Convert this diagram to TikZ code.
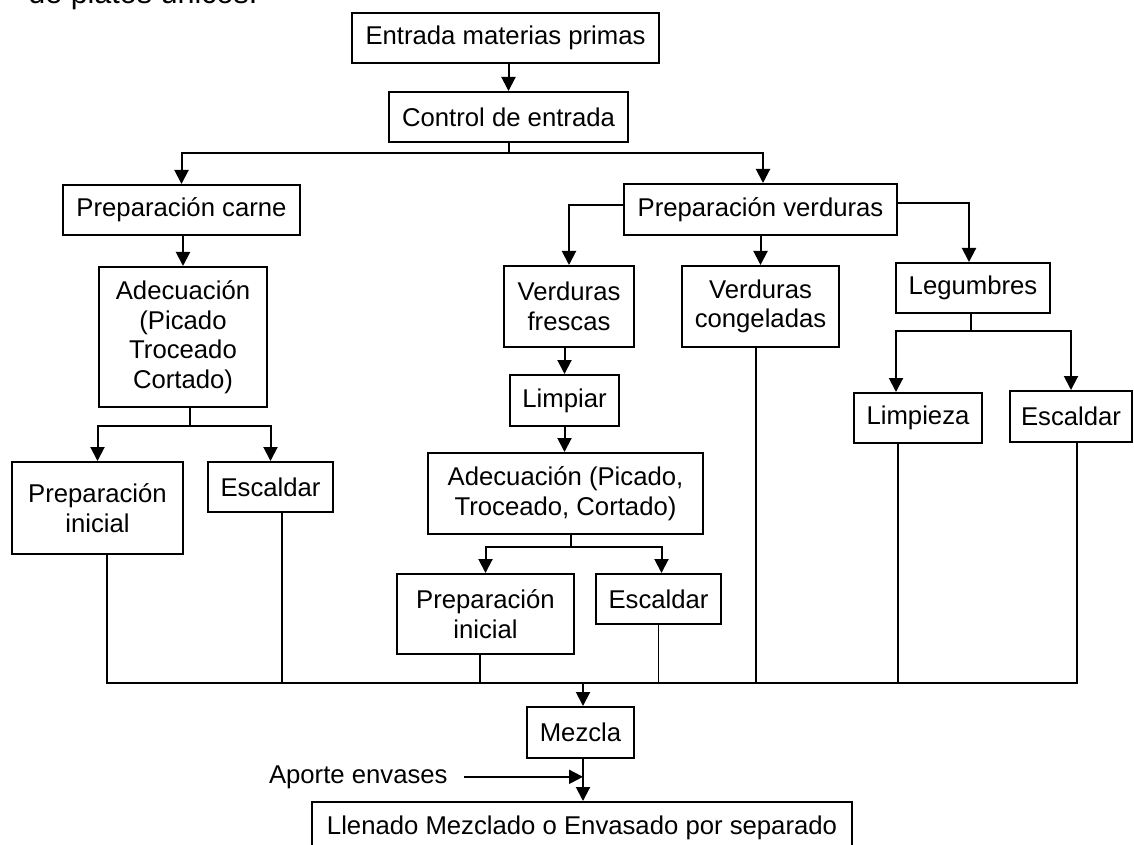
\documentclass[tikz,border=0pt]{standalone}
\usepackage{fontspec}
\setmainfont{Liberation Sans}
\usetikzlibrary{arrows.meta}
\begin{document}
\begin{tikzpicture}[x=0.5pt,y=-0.5pt,
  txt/.style={font=\fontsize{12.85pt}{14.8pt}\selectfont},
  box/.style={txt, draw, line width=1pt, inner sep=0pt, align=center},
  link/.style={line width=1pt},
  arr/.style={link, -{Triangle[length=7pt,width=7pt]}},
  feed/.style={line width=0.8pt}]
\useasboundingbox (0,0) rectangle (1134,845);
\clip (0,0) rectangle (1134,845);
\fill[white] (0,0) rectangle (1134,845);

% heading line of the surrounding text
\node[anchor=base west, inner sep=0pt, font=\fontsize{15.25pt}{18pt}\selectfont] (head) at (28,4) {de platos únicos.};

% process steps
\node[box, minimum width=153.5pt, minimum height=25pt]   (entrada)  at (505.5,38)   {Entrada materias primas};
\node[box, minimum width=119.5pt, minimum height=25pt]   (control)  at (508.5,117)  {Control de entrada};
\node[box, minimum width=118.5pt, minimum height=25pt]   (pcarne)   at (181.5,210)  {Preparación carne};
\node[box, minimum width=136.5pt, minimum height=25.5pt] (pverd)    at (760.5,209.5){Preparación verduras};
\node[box, minimum width=84pt,    minimum height=70pt]   (adec1)    at (183,337)    {Adecuación\\(Picado\\Troceado\\Cortado)};
\node[box, minimum width=85.5pt,  minimum height=46pt]   (pini1)    at (97.5,508)   {Preparación\\inicial};
\node[box, minimum width=62.5pt,  minimum height=25pt]   (esc1)     at (270.5,487)  {Escaldar};
\node[box, minimum width=65pt,    minimum height=40.5pt] (vfres)    at (569,306.5)  {Verduras\\frescas};
\node[box, minimum width=78.5pt,  minimum height=40.5pt] (vcong)    at (760.5,306.5){Verduras\\congeladas};
\node[box, minimum width=77pt,    minimum height=25pt]   (legum)    at (973,288)    {Legumbres};
\node[box, minimum width=54.5pt,  minimum height=25.5pt] (limpiar)  at (564.5,400.5){Limpiar};
\node[box, minimum width=137.5pt, minimum height=40.5pt] (adec2)    at (565.5,493.5){Adecuación (Picado,\\Troceado, Cortado)};
\node[box, minimum width=88.5pt,  minimum height=40pt]   (pini2)    at (485.5,614)  {Preparación\\inicial};
\node[box, minimum width=62.5pt,  minimum height=25pt]   (esc2)     at (658.5,599)  {Escaldar};
\node[box, minimum width=64pt,    minimum height=25pt]   (limpieza) at (918,418)    {Limpieza};
\node[box, minimum width=61pt,    minimum height=25.5pt] (esc3)     at (1071,416.5) {Escaldar};
\node[box, minimum width=53.5pt,  minimum height=25.5pt] (mezcla)   at (580.5,732.5){Mezcla};
\node[box, minimum width=270pt,   minimum height=26pt]   (llenado)  at (582,828)    {Llenado Mezclado o Envasado por separado};
\node[txt, anchor=base east, inner sep=0pt] (aporte) at (448,783) {Aporte envases};

% junction points
\coordinate (j1) at (508.5,153);
\coordinate (j2) at (190,426);
\coordinate (j3) at (571,547);
\coordinate (j4) at (971,331);
\coordinate (m)  at (583,683);

% main line
\draw[arr] (control.north |- entrada.south) -- (control.north);
\draw[link] (control.south) -- (j1);
\draw[arr] (j1) -| (pcarne.north);
\draw[arr] (j1) -| ([xshift=1.25pt]pverd.north);

% meat branch
\draw[arr] (adec1.north |- pcarne.south) -- (adec1.north);
\draw[link] (j2 |- adec1.south) -- (j2);
\draw[arr] (j2) -| (pini1.north);
\draw[arr] (j2) -| (esc1.north);

% vegetable branches
\draw[arr] ([yshift=2pt]pverd.west) -| (vfres.north);
\draw[arr] (pverd.south) -- (vcong.north);
\draw[arr] ([yshift=3pt]pverd.east) -| ([xshift=-2pt]legum.north);
\draw[arr] (limpiar.north |- vfres.south) -- (limpiar.north);
\draw[arr] (limpiar.south) -- (limpiar.south |- adec2.north);
\draw[link] (j3 |- adec2.south) -- (j3);
\draw[arr] (j3) -| (pini2.north);
\draw[arr] (j3) -| ([xshift=1.5pt]esc2.north);

% pulses branch
\draw[link] (j4 |- legum.south) -- (j4);
\draw[arr] (j4) -| ([xshift=-11pt]limpieza.north);
\draw[arr] (j4) -| (esc3.north);

% collector towards mixing
\coordinate (c1) at ([xshift=4.75pt]pini1.south);
\coordinate (c2) at ([xshift=5.75pt]esc1.south);
\coordinate (c3) at ([xshift=-2.75pt]pini2.south);
\coordinate (c4) at (esc2.south);
\coordinate (c5) at ([xshift=-2.25pt]vcong.south);
\coordinate (c6) at ([xshift=-10pt]limpieza.south);
\coordinate (c7) at ([xshift=3pt]esc3.south);
\draw[feed] (c1) |- (m) -| (c7);
\foreach \c in {c2,c3,c4,c5,c6} \draw[feed] (\c) -- (\c |- m);
\draw[arr] (m) -- (m |- mezcla.north);
\draw[arr] (m |- mezcla.south) -- (m |- llenado.north);
\draw[arr] ([xshift=8pt]aporte.east) -- (aporte.east -| m);
\end{tikzpicture}
\end{document}
